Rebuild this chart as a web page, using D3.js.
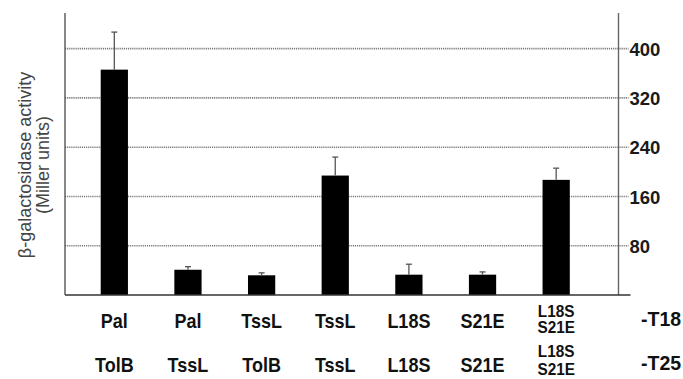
<!DOCTYPE html>
<html>
<head>
<meta charset="utf-8">
<script src="https://cdn.jsdelivr.net/npm/d3@7"></script>
<style>
  html, body { margin: 0; padding: 0; background: #fff; overflow: hidden; }
  svg { display: block; }
</style>
</head>
<body>
<svg id="chart" width="683" height="379"></svg>
<script>
// ---- data ----
const categories = ["c1", "c2", "c3", "c4", "c5", "c6", "c7"];
const t18Labels = [["Pal"], ["Pal"], ["TssL"], ["TssL"], ["L18S"], ["S21E"], ["L18S", "S21E"]];
const t25Labels = [["TolB"], ["TssL"], ["TolB"], ["TssL"], ["L18S"], ["S21E"], ["L18S", "S21E"]];
const activity = [366, 41, 32, 194, 33, 33, 187];
const errorUp = [61, 5, 4, 30, 17, 4.5, 19];
const yTicks = [80, 160, 240, 320, 400];
const rowNames = ["-T18", "-T25"];
const yTitle = ["β-galactosidase activity", "(Miller units)"];

// ---- layout ----
const svg = d3.select("#chart");
const mLeft = 65, mRight = 618.5, mTop = 13, mBottom = 295;
const FONT = "Liberation Sans, Arial, sans-serif";

const x = d3.scaleBand().domain(categories).range([77.5, 593]).paddingInner(0.63).paddingOuter(0.315);
const y = d3.scaleLinear().domain([0, 458]).range([mBottom, mTop]);

// gridlines
svg.append("g").selectAll("line").data(yTicks).join("line")
  .attr("x1", mLeft).attr("x2", mRight + 10)
  .attr("y1", d => y(d)).attr("y2", d => y(d))
  .attr("stroke", "#7a7a7a").attr("stroke-width", 1.7)
  .attr("stroke-dasharray", "1.2,0.9");

// right axis (labels)
const yAxis = d3.axisRight(y).tickValues(yTicks).tickSize(0).tickPadding(0).tickFormat(d3.format("d"));
const ga = svg.append("g").attr("transform", `translate(${mRight + 11},0)`).call(yAxis);
ga.select(".domain").remove();
ga.selectAll("text")
  .attr("font-family", FONT)
  .attr("font-weight", "bold").attr("font-size", 18.5).attr("fill", "#1a1a1a")
  .attr("dy", "0.36em");

// axis lines
svg.append("line").attr("x1", mLeft).attr("x2", mLeft).attr("y1", mTop).attr("y2", mBottom)
  .attr("stroke", "#555").attr("stroke-width", 1.4);
svg.append("line").attr("x1", mRight).attr("x2", mRight).attr("y1", mTop).attr("y2", mBottom)
  .attr("stroke", "#666").attr("stroke-width", 1.4);

// bars
svg.append("g").selectAll("rect").data(activity).join("rect")
  .attr("x", (d, i) => x(categories[i]))
  .attr("width", x.bandwidth())
  .attr("y", d => y(d))
  .attr("height", d => y(0) - y(d))
  .attr("fill", "#000");

// error bars
const eg = svg.append("g").attr("stroke", "#555").attr("stroke-width", 1.3);
activity.forEach((v, i) => {
  const cx = x(categories[i]) + x.bandwidth() / 2;
  eg.append("line").attr("x1", cx).attr("x2", cx).attr("y1", y(v)).attr("y2", y(v + errorUp[i]));
  eg.append("line").attr("x1", cx - 3).attr("x2", cx + 3).attr("y1", y(v + errorUp[i])).attr("y2", y(v + errorUp[i]));
});

// baseline
svg.append("line").attr("x1", mLeft).attr("x2", mRight + 12).attr("y1", mBottom).attr("y2", mBottom)
  .attr("stroke", "#333").attr("stroke-width", 1.6);

// y title
const tt = svg.append("text")
  .attr("transform", `translate(31,165) rotate(-90)`)
  .attr("text-anchor", "middle")
  .attr("font-family", FONT)
  .attr("font-size", 18).attr("fill", "#444");
tt.selectAll("tspan").data(yTitle).join("tspan")
  .attr("x", 0).attr("dy", (d, i) => i === 0 ? 0 : 18)
  .text(d => d);

// category labels
function drawRow(labels, baseY, stackY) {
  const g = svg.append("g")
    .attr("font-family", FONT)
    .attr("font-weight", "bold").attr("fill", "#111").attr("text-anchor", "middle");
  labels.forEach((lines, i) => {
    const cx = x(categories[i]) + x.bandwidth() / 2;
    if (lines.length === 1) {
      g.append("text").attr("x", cx).attr("y", baseY).attr("font-size", 20)
        .attr("transform", `translate(${cx},0) scale(0.9,1) translate(${-cx},0)`)
        .text(lines[0]);
    } else {
      lines.forEach((ln, j) => {
        g.append("text").attr("x", cx).attr("y", stackY[j]).attr("font-size", 16.5)
          .attr("transform", `translate(${cx},0) scale(0.93,1) translate(${-cx},0)`)
          .text(ln);
      });
    }
  });
}
drawRow(t18Labels, 328, [317, 333]);
drawRow(t25Labels, 372, [357, 375]);

// row names
svg.append("g").selectAll("text").data(rowNames).join("text")
  .attr("x", 641).attr("y", (d, i) => i === 0 ? 326 : 370)
  .attr("font-family", FONT)
  .attr("font-weight", "bold").attr("font-size", 21).attr("fill", "#111")
  .attr("transform", "translate(641,0) scale(0.93,1) translate(-641,0)")
  .text(d => d);
</script>
</body>
</html>
